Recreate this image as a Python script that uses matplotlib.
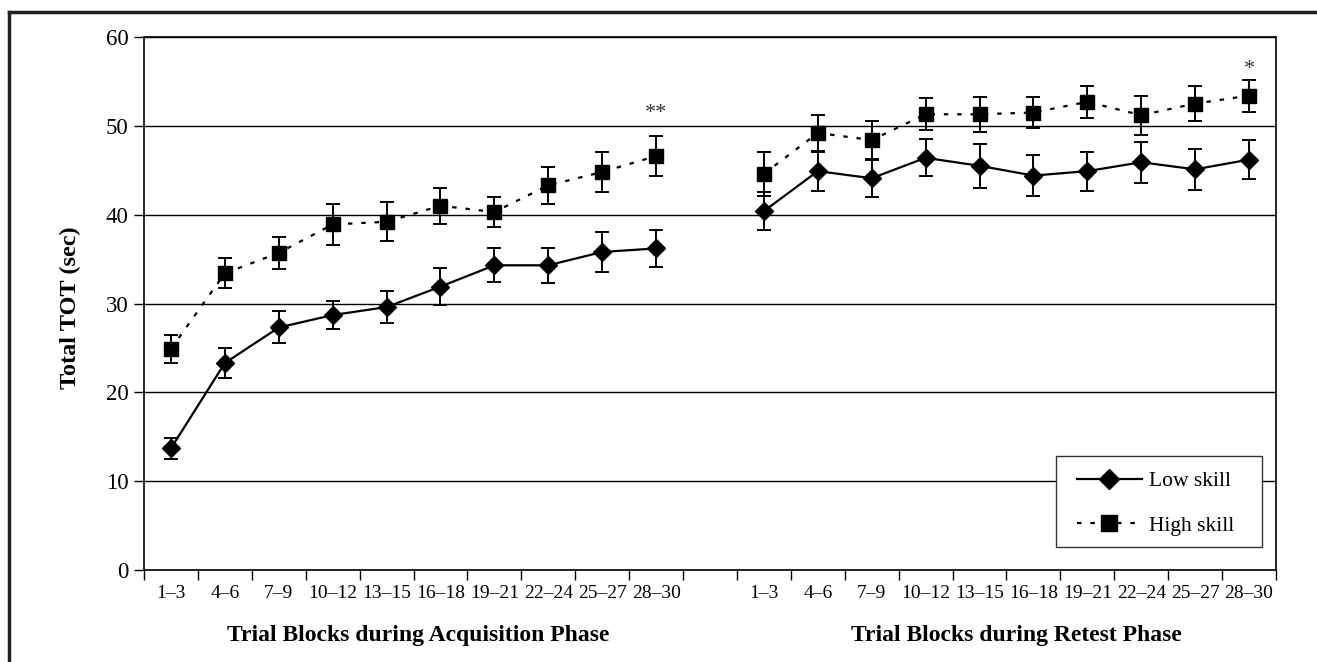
import matplotlib
matplotlib.use("Agg")
import matplotlib.pyplot as plt
from matplotlib.lines import Line2D
from matplotlib.patches import Rectangle
import numpy as np

plt.rcParams['font.family'] = ['Liberation Serif', 'DejaVu Serif']

blocks = ["1–3", "4–6", "7–9", "10–12", "13–15", "16–18", "19–21", "22–24", "25–27", "28–30"]

low_acq = [13.7, 23.3, 27.3, 28.7, 29.6, 31.9, 34.3, 34.3, 35.8, 36.2]
low_acq_err = [1.2, 1.7, 1.8, 1.6, 1.8, 2.1, 1.9, 2.0, 2.2, 2.1]
high_acq = [24.9, 33.4, 35.7, 38.9, 39.2, 41.0, 40.3, 43.3, 44.8, 46.6]
high_acq_err = [1.6, 1.7, 1.8, 2.3, 2.2, 2.0, 1.7, 2.1, 2.3, 2.2]

low_ret = [40.4, 44.9, 44.1, 46.4, 45.5, 44.4, 44.9, 45.9, 45.1, 46.2]
low_ret_err = [2.1, 2.2, 2.1, 2.1, 2.5, 2.3, 2.2, 2.3, 2.3, 2.2]
high_ret = [44.6, 49.2, 48.4, 51.3, 51.3, 51.5, 52.7, 51.2, 52.5, 53.4]
high_ret_err = [2.5, 2.0, 2.1, 1.8, 2.0, 1.7, 1.8, 2.2, 2.0, 1.8]

acq_label = "Trial Blocks during Acquisition Phase"
ret_label = "Trial Blocks during Retest Phase"
y_label = "Total TOT (sec)"
annot_acq = "**"
annot_ret = "*"

W, H = 1317, 662
fig = plt.figure(figsize=(13.17, 6.62), dpi=100)
ax = fig.add_axes([144/W, 1-570/H, (1276-144)/W, (570-37)/H])

x_acq = np.arange(10)
x_ret = np.arange(10) + 11

mk = dict(color='black', mfc='black', mec='black', ecolor='black',
          elinewidth=1.4, capsize=5, capthick=1.4, zorder=3)

for xs, lo, loe, hi, hie in [(x_acq, low_acq, low_acq_err, high_acq, high_acq_err),
                              (x_ret, low_ret, low_ret_err, high_ret, high_ret_err)]:
    ax.errorbar(xs, hi, yerr=hie, marker='s', markersize=10.5, lw=1.6,
                linestyle=(0, (2, 4)), **mk)
    ax.errorbar(xs, lo, yerr=loe, marker='D', markersize=9, lw=1.6,
                linestyle='-', **mk)

ax.set_xlim(-0.5, 20.5)
ax.set_ylim(0, 60)
ax.set_yticks(np.arange(0, 61, 10))
ax.yaxis.grid(True, color='black', lw=1.0)
ax.set_axisbelow(True)
ax.tick_params(axis='y', labelsize=16.5, length=7, width=1, direction='out', pad=4)

ax.set_xticks(list(x_acq) + list(x_ret))
ax.set_xticklabels(blocks + blocks)
ax.tick_params(axis='x', which='major', length=0, labelsize=14, pad=11)
ax.set_xticks(np.arange(-0.5, 21, 1), minor=True)
ax.tick_params(axis='x', which='minor', length=7, width=1, direction='out')

for s in ax.spines.values():
    s.set_linewidth(1.2)
    s.set_color('black')

ax.text(x_acq[-1], 50.3, annot_acq, ha='center', va='bottom', fontsize=16, color='#333333')
ax.text(x_ret[-1], 55.3, annot_ret, ha='center', va='bottom', fontsize=16, color='#333333')

fig.text(70/W, 1-308/H, y_label, rotation=90, ha='center', va='center',
         fontsize=17.5, fontweight='bold')
fig.text(418/W, 1-635/H, acq_label, ha='center', va='center', fontsize=17, fontweight='bold')
fig.text(1016/W, 1-635/H, ret_label, ha='center', va='center', fontsize=17, fontweight='bold')

# legend box
box = Rectangle((1056/W, 1-547/H), (1262-1056)/W, (547-456)/H, transform=fig.transFigure,
                facecolor='white', edgecolor='#333333', lw=1.0, zorder=4)
ax.add_artist(box)
box.set_clip_on(False)

handles = [Line2D([], [], color='black', lw=1.6, marker='D', markersize=10, mfc='black'),
           Line2D([], [], color='black', lw=1.6, linestyle=(0, (2, 4)), marker='s', markersize=11.5, mfc='black')]
leg = ax.legend(handles, ['Low skill', 'High skill'], loc='upper left',
                bbox_to_anchor=(1077/W, 1-471/H), bbox_transform=fig.transFigure,
                borderaxespad=0, borderpad=0,
                fontsize=15.5, frameon=False,
                handlelength=3.0, labelspacing=1.15, handletextpad=0.35)
leg.set_zorder(5)

# outer frame (top and left)
fig.add_artist(Line2D([9/W, 1], [1-12/H, 1-12/H], color='#222222', lw=2.5))
fig.add_artist(Line2D([9/W, 9/W], [0, 1-12/H], color='#222222', lw=2.5))

fig.savefig('out.png', dpi=100)
